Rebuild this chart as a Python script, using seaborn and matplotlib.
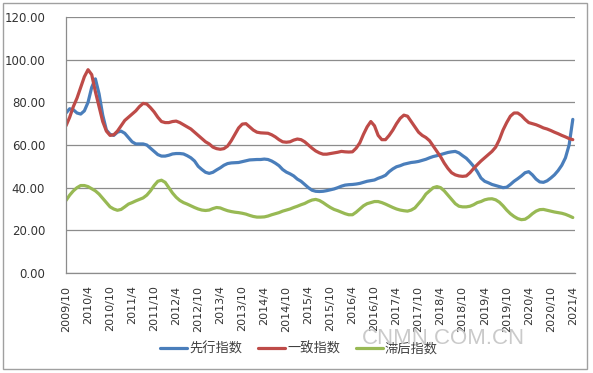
import matplotlib
matplotlib.use("Agg")
import matplotlib.pyplot as plt
from matplotlib.patches import Rectangle
import numpy as np
import pandas as pd
import seaborn as sns

# monthly index values, 2009/10 .. 2021/4 (139 months)
leading = [75, 77, 76.5, 75, 74.5, 76, 80, 87, 91, 84,
           74, 67, 65, 64.5, 66, 66.5, 65.5, 63.5, 61.5, 60.5,
           60.5, 60.5, 60, 58.5, 57, 55.5, 54.8, 54.8, 55.2, 55.8,
           56, 56, 55.8, 55, 54, 52.5, 50, 48.5, 47.2, 46.7,
           47.2, 48.3, 49.3, 50.5, 51.3, 51.6, 51.7, 51.8, 52.2, 52.6,
           53, 53.1, 53.2, 53.2, 53.4, 53.2, 52.5, 51.5, 50.3, 48.5,
           47.3, 46.5, 45.5, 44, 43, 41.5, 40, 38.8, 38.3, 38.2,
           38.3, 38.6, 39, 39.4, 40, 40.7, 41.2, 41.4, 41.5, 41.7,
           42, 42.5, 43, 43.3, 43.6, 44.4, 45, 45.8, 47.5, 48.8,
           49.8, 50.3, 51, 51.4, 51.8, 52, 52.3, 52.8, 53.3, 54,
           54.6, 55, 55.5, 56, 56.5, 56.8, 57, 56.3, 55, 53.8,
           52, 50, 47.5, 44.5, 43, 42.3, 41.5, 41, 40.5, 40,
           40.2, 41.5, 43, 44.2, 45.5, 47, 47.5, 46, 44, 42.7,
           42.5, 43.2, 44.5, 46, 48, 50.5, 54, 60, 72]

coincident = [69, 73, 78, 82, 87, 92, 95.3, 93, 85, 78,
              71, 66.5, 64.5, 64.8, 66.5, 69, 71.5, 73, 74.5, 76,
              78, 79.5, 79.2, 77.5, 75.5, 73, 71, 70.5, 70.5, 71,
              71.2, 70.5, 69.5, 68.5, 67.5, 66, 64.5, 63, 61.5, 60.5,
              59, 58.3, 58, 58.3, 59.5, 62, 65, 68, 69.8, 70,
              68.5, 67, 66, 65.7, 65.6, 65.5, 64.8, 63.8, 62.5, 61.5,
              61.3, 61.5, 62.3, 62.8, 62.5, 61.5, 60, 58.5, 57.2, 56.3,
              55.7, 55.7, 56, 56.3, 56.6, 57, 56.8, 56.7, 56.8, 58.5,
              61, 65, 68.5, 71, 69, 64.5, 62.5, 62.5, 64.5, 67,
              70, 72.5, 74, 73.5, 71, 68.5, 66, 64.5, 63.5, 62,
              59.5, 57, 54.5, 51.5, 49, 47, 46, 45.5, 45.3, 45.5,
              47, 49, 50.8, 52.5, 54, 55.5, 57, 59, 62.5, 67,
              70.5, 73.5, 75, 75, 73.8, 72, 70.5, 70, 69.5, 68.8,
              68, 67.5, 66.8, 66, 65.3, 64.5, 63.8, 63, 62.5]

lagging = [34, 36.5, 38.5, 40, 41, 41, 40.5, 39.5, 38.5, 37,
           35, 33, 31, 30, 29.4, 29.8, 31, 32.3, 33, 33.8,
           34.5, 35.2, 36.5, 38.5, 41, 43, 43.5, 42.5, 40, 37.5,
           35.5, 34, 33, 32.3, 31.5, 30.7, 30, 29.5, 29.3, 29.5,
           30.2, 30.7, 30.5, 29.8, 29.2, 28.8, 28.5, 28.3, 28, 27.6,
           27, 26.5, 26.2, 26.2, 26.3, 26.7, 27.3, 27.8, 28.3, 29,
           29.5, 30, 30.7, 31.3, 32, 32.6, 33.5, 34.2, 34.5, 34,
           33, 31.8, 30.7, 29.8, 29.2, 28.5, 27.8, 27.3, 27.3, 28.5,
           30, 31.5, 32.5, 33, 33.5, 33.5, 33, 32.3, 31.5, 30.7,
           30, 29.5, 29.2, 29, 29.5, 30.5, 32.5, 34.5, 37, 38.5,
           40, 40.5, 40, 38.5, 36.5, 34.5, 32.5, 31.3, 31, 31,
           31.3, 32, 33, 33.5, 34.3, 34.7, 34.8, 34.3, 33.2, 31.5,
           29.5, 27.8, 26.5, 25.5, 25, 25.2, 26.3, 27.8, 29, 29.7,
           29.8, 29.4, 29, 28.6, 28.3, 28, 27.5, 26.8, 26]

series_names = ["先行指数", "一致指数", "滞后指数"]
series_colors = ["#4a7ebb", "#be4b48", "#98b954"]

x_tick_labels = ["2009/10", "2010/4", "2010/10", "2011/4", "2011/10", "2012/4",
                 "2012/10", "2013/4", "2013/10", "2014/4", "2014/10", "2015/4",
                 "2015/10", "2016/4", "2016/10", "2017/4", "2017/10", "2018/4",
                 "2018/10", "2019/4", "2019/10", "2020/4", "2020/10", "2021/4"]
y_ticks = [0, 20, 40, 60, 80, 100, 120]
y_tick_labels = ["0.00", "20.00", "40.00", "60.00", "80.00", "100.00", "120.00"]

months = np.arange(len(leading))
df = pd.DataFrame({"month": np.tile(months, 3),
                   "value": leading + coincident + lagging,
                   "series": np.repeat(series_names, len(months))})

sns.set_style("white")
plt.rcParams["font.family"] = ["Noto Sans CJK SC", "DejaVu Sans"]

fig = plt.figure(figsize=(5.93, 3.73), dpi=100)
ax = fig.add_axes([66 / 593, 1 - 273 / 373, 509 / 593, 256 / 373])

sns.lineplot(data=df, x="month", y="value", hue="series", hue_order=series_names,
             palette=series_colors, linewidth=2.3, ax=ax, legend=True)

ax.set_xlim(0, 138.6)
ax.set_ylim(0, 120)
ax.set_xticks(np.arange(0, len(months), 6))
ax.set_xticklabels(x_tick_labels, rotation=90, fontsize=8, color="#333333",
                   family=["DejaVu Sans"])
ax.set_yticks(y_ticks)
ax.set_yticklabels(y_tick_labels, fontsize=8.5, color="#333333", family=["DejaVu Sans"])
ax.set_xlabel("")
ax.set_ylabel("")
ax.yaxis.grid(True, color="#8c8c8c", linewidth=0.9)
ax.set_axisbelow(True)
for s in ["top", "right"]:
    ax.spines[s].set_visible(False)
for s in ["left", "bottom"]:
    ax.spines[s].set_color("#8c8c8c")
    ax.spines[s].set_linewidth(0.9)
ax.tick_params(axis="both", direction="out", length=4, width=0.9, color="#8c8c8c")
ax.tick_params(axis="y", pad=11)
ax.tick_params(axis="x", pad=5)

ax.legend(loc="center", bbox_to_anchor=(299 / 593, 1 - 349 / 373), bbox_transform=fig.transFigure,
          ncol=3, frameon=False, fontsize=9.5, handlelength=2.05, handletextpad=0.15,
          columnspacing=1.2, labelcolor="#404040")

fig.text(443 / 593, 1 - 338 / 373, "CNMN.COM.CN", fontsize=16, color="#cacaca",
         ha="center", va="center", family=["Liberation Sans"])

fig.patches.append(Rectangle((3 / 593, 4 / 373), 584 / 593, 366 / 373,
                             transform=fig.transFigure, fill=False,
                             edgecolor="#a0a0a0", linewidth=1))

fig.savefig("out.png", dpi=100)
